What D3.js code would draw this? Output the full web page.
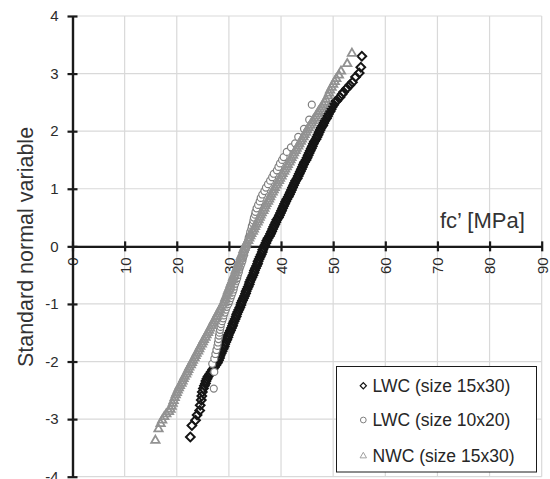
<!DOCTYPE html>
<html><head><meta charset="utf-8">
<script src="https://cdn.jsdelivr.net/npm/d3@7/dist/d3.min.js"></script>
<style>
body{margin:0;background:#fff}
svg{display:block}
text{font-family:"Liberation Sans",Arial,Helvetica,sans-serif}
</style>
</head><body>
<svg id="chart" width="550" height="479"></svg>
<script>
// ---- data (fc' [MPa], standard normal variable) ----
const xTicks = [0,10,20,30,40,50,60,70,80,90];
const yTicks = [-4,-3,-2,-1,0,1,2,3,4];
const seriesNames = ["LWC (size 15x30)","LWC (size 10x20)","NWC (size 15x30)"];
const xTitle = "fc\u2019 [MPa]";
const yTitle = "Standard normal variable";

const lwc15x30 = [
[22.6,-3.31],[22.9,-3.11],[23.6,-3.02],[23.9,-2.93],[24.4,-2.85],[24.5,-2.76],[24.7,-2.67],[24.8,-2.60],[24.9,-2.53],[25.1,-2.47],[25.3,-2.42],[25.5,-2.38],[25.6,-2.34],[25.8,-2.30],[26.0,-2.26],[26.3,-2.22],
[26.6,-2.18],[26.9,-2.14],[27.2,-2.10],[27.5,-2.06],[27.8,-2.02],[28.0,-1.98],[28.2,-1.94],[28.3,-1.90],[28.5,-1.86],[28.7,-1.82],[28.9,-1.78],[29.1,-1.74],[29.2,-1.70],[29.4,-1.66],[29.6,-1.62],[29.8,-1.58],[29.9,-1.54],[30.1,-1.50],[30.3,-1.46],[30.5,-1.42],[30.7,-1.38],[30.8,-1.34],[31.0,-1.30],[31.2,-1.26],[31.4,-1.22],[31.5,-1.18],[31.7,-1.14],[31.9,-1.10],[32.1,-1.06],[32.3,-1.02],[32.4,-0.98],[32.6,-0.94],[32.8,-0.90],[33.0,-0.86],[33.2,-0.82],[33.3,-0.78],[33.5,-0.74],[33.7,-0.70],[33.9,-0.66],[34.0,-0.62],[34.2,-0.58],[34.4,-0.54],[34.6,-0.50],[34.8,-0.46],[34.9,-0.42],[35.1,-0.38],[35.3,-0.34],[35.5,-0.30],[35.6,-0.26],[35.8,-0.22],[36.0,-0.18],[36.2,-0.14],[36.4,-0.10],[36.5,-0.06],[36.7,-0.02],
[36.9,0.02],[37.1,0.06],[37.3,0.10],[37.5,0.14],[37.8,0.18],[38.0,0.22],[38.2,0.26],[38.4,0.30],[38.6,0.34],[38.8,0.38],[39.0,0.42],[39.2,0.46],[39.5,0.50],[39.7,0.54],[39.9,0.58],[40.1,0.62],[40.3,0.66],[40.5,0.70],[40.7,0.74],[40.9,0.78],[41.1,0.82],[41.4,0.86],[41.6,0.90],[41.8,0.94],[42.0,0.98],[42.2,1.02],[42.4,1.06],[42.6,1.10],[42.8,1.14],[43.1,1.18],[43.3,1.22],[43.5,1.26],[43.7,1.30],[43.9,1.34],[44.1,1.38],[44.3,1.42],[44.5,1.46],[44.8,1.50],[45.0,1.54],[45.2,1.58],[45.4,1.62],[45.6,1.66],[45.8,1.70],[46.0,1.74],[46.2,1.78],[46.4,1.82],[46.7,1.86],[46.9,1.90],[47.1,1.94],[47.3,1.98],[47.5,2.02],[47.7,2.06],[48.0,2.10],[48.2,2.14],[48.4,2.18],[48.7,2.22],[48.9,2.26],[49.1,2.30],[49.4,2.34],[49.6,2.38],[49.8,2.42],[50.1,2.46],[50.3,2.50],
[50.7,2.53],[51.3,2.59],[51.7,2.64],[52.0,2.68],[52.6,2.74],[53.2,2.80],[53.7,2.85],[54.3,2.94],[55.0,3.01],[55.3,3.11],[55.5,3.30]
];

const lwc10x20 = [
[27.1,-2.47],[27.2,-2.18],[26.8,-2.04],[27.2,-1.95],[27.4,-1.87],[27.6,-1.80],[27.8,-1.73],[27.9,-1.67],[28.0,-1.61],[28.1,-1.55],[28.2,-1.50],[28.3,-1.45],[28.4,-1.40],[28.5,-1.35],[28.7,-1.30],[28.9,-1.25],[29.0,-1.20],[29.2,-1.15],[29.4,-1.10],[29.6,-1.05],[29.9,-1.00],[30.1,-0.95],[30.3,-0.90],[30.5,-0.85],[30.7,-0.80],[30.9,-0.75],[31.0,-0.70],[31.2,-0.65],[31.4,-0.60],[31.6,-0.55],[31.7,-0.50],[31.9,-0.45],[32.0,-0.40],[32.2,-0.35],[32.4,-0.30],[32.6,-0.25],[32.7,-0.20],[32.9,-0.15],[33.0,-0.10],[33.2,-0.05],
[33.4,0.00],[33.5,0.05],[33.7,0.10],[33.8,0.15],[34.0,0.20],[34.1,0.25],[34.3,0.30],[34.4,0.35],[34.6,0.40],[34.7,0.45],[34.8,0.50],[35.0,0.55],[35.1,0.60],[35.3,0.66],[35.6,0.72],[35.9,0.78],[36.1,0.84],[36.4,0.90],[36.8,0.96],[37.1,1.02],[37.5,1.08],[37.9,1.14],[38.3,1.20],[38.6,1.26],[39.2,1.32],[39.5,1.38],[39.8,1.44],[40.2,1.50],[40.5,1.55],[41.1,1.64],[41.9,1.72],[42.7,1.79],[43.3,1.90],[44.4,2.04],[45.4,2.20],[45.9,2.46]
];

const nwc15x30 = [
[15.9,-3.37],[16.5,-3.17],[16.9,-3.08],[17.2,-3.02],[17.6,-2.96],[18.0,-2.91],[18.5,-2.87],[18.8,-2.83],[19.0,-2.78],[19.2,-2.73],[19.4,-2.68],[19.6,-2.63],
[19.8,-2.58],[20.0,-2.54],[20.2,-2.50],[20.4,-2.46],[20.6,-2.42],[20.9,-2.38],[21.1,-2.34],[21.3,-2.30],[21.5,-2.26],[21.8,-2.22],[22.0,-2.18],[22.2,-2.14],[22.4,-2.10],[22.7,-2.06],[22.9,-2.02],[23.1,-1.98],[23.4,-1.94],[23.6,-1.90],[23.8,-1.86],[24.1,-1.82],[24.3,-1.78],[24.5,-1.74],[24.8,-1.70],[25.0,-1.66],[25.2,-1.62],[25.5,-1.58],[25.7,-1.54],[26.0,-1.50],[26.2,-1.46],[26.4,-1.42],[26.7,-1.38],[26.9,-1.34],[27.1,-1.30],[27.4,-1.26],[27.6,-1.22],[27.8,-1.18],[28.1,-1.14],[28.3,-1.10],[28.5,-1.06],[28.8,-1.02],[29.0,-0.98],[29.2,-0.94],[29.3,-0.90],[29.5,-0.86],[29.7,-0.82],[29.8,-0.78],[30.0,-0.74],[30.2,-0.70],[30.3,-0.66],[30.5,-0.62],[30.7,-0.58],[30.8,-0.54],[31.0,-0.50],[31.2,-0.46],[31.3,-0.42],[31.5,-0.38],[31.7,-0.34],[31.8,-0.30],[32.0,-0.26],[32.2,-0.22],[32.3,-0.18],[32.5,-0.14],[32.7,-0.10],[32.8,-0.06],[33.0,-0.02],
[33.2,0.02],[33.4,0.06],[33.7,0.10],[33.9,0.14],[34.1,0.18],[34.3,0.22],[34.6,0.26],[34.8,0.30],[35.0,0.34],[35.2,0.38],[35.5,0.42],[35.7,0.46],[35.9,0.50],[36.1,0.54],[36.3,0.58],[36.6,0.62],[36.8,0.66],[37.0,0.70],[37.2,0.74],[37.5,0.78],[37.7,0.82],[37.9,0.86],[38.1,0.90],[38.4,0.94],[38.6,0.98],[38.8,1.02],[39.1,1.06],[39.3,1.10],[39.6,1.14],[39.8,1.18],[40.1,1.22],[40.3,1.26],[40.6,1.30],[40.8,1.34],[41.1,1.38],[41.3,1.42],[41.6,1.46],[41.8,1.50],[42.0,1.54],[42.3,1.58],[42.5,1.62],[42.8,1.66],[43.0,1.70],[43.3,1.74],[43.5,1.78],[43.8,1.82],[44.0,1.86],[44.3,1.90],[44.5,1.94],[44.8,1.98],[45.0,2.02],[45.3,2.06],[45.6,2.10],[45.9,2.14],[46.1,2.18],[46.4,2.22],[46.7,2.26],[47.0,2.30],[47.2,2.34],[47.5,2.38],[47.8,2.42],[48.1,2.46],[48.4,2.50],
[48.6,2.55],[49.0,2.61],[49.2,2.66],[49.4,2.71],[49.7,2.76],[50.0,2.81],[50.3,2.86],[50.6,2.91],[51.1,2.97],[51.5,3.04],[52.7,3.17],[53.6,3.35]
];

// ---- chart ----
const svg = d3.select("#chart");
const x = d3.scaleLinear().domain([0,90]).range([72.5,541.7]);
const y = d3.scaleLinear().domain([-4,4]).range([476.7,16]);

// gridlines
const grid = svg.append("g").attr("stroke","#d9d9d9").attr("stroke-width",1.2);
grid.selectAll("line.h").data(yTicks).join("line")
  .attr("x1",x(0)).attr("x2",x(90)).attr("y1",d=>y(d)).attr("y2",d=>y(d));
grid.selectAll("line.v").data(xTicks.filter(d=>d>0)).join("line")
  .attr("y1",y(4)).attr("y2",y(-4)).attr("x1",d=>x(d)).attr("x2",d=>x(d));

// y axis
const yAxis = svg.append("g").attr("transform",`translate(${x(0)},0)`)
  .call(d3.axisLeft(y).tickValues(yTicks).tickFormat(d3.format("d")).tickSize(5).tickSizeOuter(0).tickPadding(9));
yAxis.select(".domain").attr("stroke","#1a1a1a").attr("stroke-width",2.4);
yAxis.selectAll(".tick line").attr("x1",5).attr("stroke","#1a1a1a").attr("stroke-width",2.2);
yAxis.selectAll(".tick text").attr("font-size",15).attr("fill","#2b2b2b").attr("font-family",null)
  .text(d=>d<0 ? "-"+Math.abs(d) : d);

// x axis at z = 0
const xAxis = svg.append("g").attr("transform",`translate(0,${y(0)})`)
  .call(d3.axisBottom(x).tickValues(xTicks).tickFormat(d3.format("d")).tickSize(5).tickSizeOuter(0));
xAxis.select(".domain").attr("stroke","#1a1a1a").attr("stroke-width",2.4);
xAxis.selectAll(".tick line").attr("y1",-5).attr("stroke","#1a1a1a").attr("stroke-width",2.2);
xAxis.selectAll(".tick text").attr("font-size",15).attr("fill","#2b2b2b").attr("font-family",null)
  .attr("transform","rotate(-90)").attr("text-anchor","end")
  .attr("x",-11).attr("y",0).attr("dy","0.36em");
yAxis.raise();

// series
const sym = (type,size)=>d3.symbol().type(type).size(size)();
const diamond = sym(d3.symbolSquare,38);
const circle = sym(d3.symbolCircle,38);
const tri = sym(d3.symbolTriangle,30);

svg.append("g").selectAll("path").data(lwc15x30).join("path")
  .attr("d",diamond)
  .attr("transform",d=>`translate(${x(d[0])},${y(d[1])}) rotate(45)`)
  .attr("fill","none").attr("stroke","#151515").attr("stroke-width",2.0);

svg.append("g").selectAll("path").data(lwc10x20).join("path")
  .attr("d",circle)
  .attr("transform",d=>`translate(${x(d[0])},${y(d[1])})`)
  .attr("fill","#fff").attr("stroke","#7f7f7f").attr("stroke-width",1.2);

svg.append("g").selectAll("path").data(nwc15x30).join("path")
  .attr("d",tri)
  .attr("transform",d=>`translate(${x(d[0])},${y(d[1])})`)
  .attr("fill","none").attr("stroke","#929292").attr("stroke-width",1.8);

// axis titles
svg.append("text").attr("transform",`translate(33,247) rotate(-90)`)
  .attr("text-anchor","middle").attr("font-size",21.5).attr("fill","#333").text(yTitle);
svg.append("text").attr("x",440).attr("y",228).attr("font-size",22).attr("fill","#333").text(xTitle);

// legend
const leg = svg.append("g");
leg.append("rect").attr("x",336.5).attr("y",366.5).attr("width",200).attr("height",105.5)
  .attr("fill","#fff").attr("stroke","#1a1a1a").attr("stroke-width",1);
const legY = [385.7,420,456];
const legSym = [
  {d:sym(d3.symbolSquare,19),rot:45,stroke:"#151515",fill:"#fff",sw:1.2},
  {d:sym(d3.symbolCircle,26),rot:0,stroke:"#7f7f7f",fill:"#fff",sw:1},
  {d:sym(d3.symbolTriangle,18),rot:0,stroke:"#a0a0a0",fill:"none",sw:1}
];
seriesNames.forEach((name,i)=>{
  leg.append("path").attr("d",legSym[i].d)
    .attr("transform",`translate(363.3,${legY[i]}) rotate(${legSym[i].rot})`)
    .attr("fill",legSym[i].fill).attr("stroke",legSym[i].stroke).attr("stroke-width",legSym[i].sw);
  leg.append("text").attr("x",372.5).attr("y",legY[i]+6).attr("font-size",17.5)
    .attr("fill","#262626").text(name);
});
</script>
</body></html>
